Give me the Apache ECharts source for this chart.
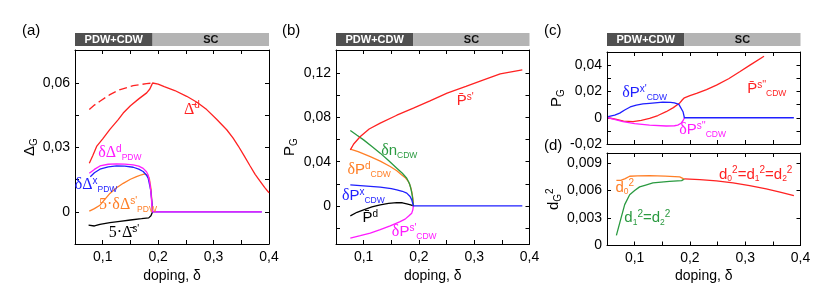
<!DOCTYPE html>
<html><head><meta charset="utf-8">
<script src="https://cdn.jsdelivr.net/npm/echarts@6/dist/echarts.min.js"></script>
<style>html,body{margin:0;padding:0;background:#fff}#c{width:831px;height:303px}</style>
</head><body><div id="c"></div>
<script>
const FONT = 'Liberation Sans, Arial, sans-serif';
const SERIF = 'Liberation Serif, Times New Roman, serif';

// ---------- axis / phase data ----------
const xMin = 0.05, xMax = 0.4;
const phaseBoundary = 0.19;
const phaseNames = ['PDW+CDW', 'SC'];
const xTickVals = [0.1, 0.15, 0.2, 0.25, 0.3, 0.35];
const xLabelVals = [0.1, 0.2, 0.3, 0.4];
const panelLetters = ['(a)', '(b)', '(c)', '(d)'];

const aYTicks = [0, 0.015, 0.03, 0.045, 0.06];
const aYLabels = [0, 0.03, 0.06];
const bYTicks = [-0.02, 0, 0.02, 0.04, 0.06, 0.08, 0.1, 0.12];
const bYLabels = [0, 0.04, 0.08, 0.12];
const cYTicks = [-0.02, -0.01, 0, 0.01, 0.02, 0.03, 0.04];
const cYLabels = [-0.02, 0, 0.02, 0.04];
const dYTicks = [0, 0.003, 0.006, 0.009];
const dYLabels = [0, 0.003, 0.006, 0.009];

// ---------- panel (a) ----------
const a_DdBar = [[0.0758,0.0227],[0.082,0.0262],[0.089,0.0305],[0.1,0.034],[0.113,0.0385],[0.128,0.043],[0.137,0.0461],[0.15,0.0495],[0.165,0.0527],[0.1793,0.0555],[0.185,0.0573],[0.188,0.059],[0.19,0.0601],
  [0.2,0.0596],[0.211,0.0584],[0.23,0.0566],[0.2515,0.0539],[0.27,0.0511],[0.2876,0.0477],[0.305,0.0433],[0.3237,0.0383],[0.335,0.0345],[0.3446,0.0307],[0.355,0.0262],[0.3657,0.0215],[0.375,0.0175],[0.3838,0.0143],[0.392,0.0114],[0.4,0.0089]];
const a_DdBarDashed = [[0.0758,0.0477],[0.085,0.0498],[0.095,0.0516],[0.113,0.0547],[0.13,0.0569],[0.155,0.0589],[0.179,0.0598],[0.19,0.0601]];
const a_dDdPDW = [[0.0758,0.018],[0.085,0.0198],[0.095,0.0214],[0.11,0.0222],[0.125,0.0224],[0.14,0.0223],[0.155,0.0219],[0.165,0.0213],[0.173,0.0203],[0.179,0.0187],[0.182,0.0172],[0.185,0.0135],[0.187,0.009],[0.188,0.0055],[0.1897,0],[0.387,0]];
const a_dDxPDW = [[0.0776,0.0164],[0.085,0.0182],[0.095,0.0199],[0.11,0.021],[0.125,0.0214],[0.14,0.0213],[0.155,0.0208],[0.165,0.0199],[0.173,0.0188],[0.179,0.0171],[0.182,0.0157],[0.1865,0.0102],[0.189,0.004],[0.19,0],[0.387,0]];
const a_dDsPDW5 = [[0.0758,0.0003],[0.085,0.0015],[0.095,0.0031],[0.105,0.0062],[0.113,0.0086],[0.125,0.0112],[0.137,0.0133],[0.15,0.0152],[0.161,0.0164],[0.17,0.0173],[0.176,0.0177],[0.18,0.0172],[0.184,0.0157],[0.187,0.011],[0.19,0]];
const a_DsBar5 = [[0.0745,-0.0062],[0.085,-0.0066],[0.095,-0.0058],[0.113,-0.005],[0.131,-0.0044],[0.15,-0.0038],[0.17,-0.0032],[0.183,-0.0028],[0.187,-0.0018],[0.19,0]];

// ---------- panel (b) ----------
const b_Ps = [[0.0759,0.0507],[0.082,0.056],[0.094,0.0627],[0.11,0.0695],[0.13,0.0748],[0.16,0.082],[0.19,0.0884],[0.22,0.095],[0.251,0.102],[0.285,0.108],[0.317,0.114],[0.347,0.1195],[0.387,0.1231]];
const b_dPd = [[0.0759,0.0513],[0.09,0.049],[0.112,0.0446],[0.13,0.0405],[0.148,0.0356],[0.16,0.0318],[0.169,0.028],[0.176,0.0252],[0.181,0.022],[0.185,0.017],[0.187,0.0129],[0.189,0.007],[0.19,0]];
const b_dn = [[0.0759,0.0681],[0.088,0.0638],[0.0999,0.0597],[0.115,0.0538],[0.13,0.0477],[0.145,0.041],[0.16,0.0341],[0.17,0.0295],[0.178,0.025],[0.183,0.02],[0.186,0.0145],[0.188,0.009],[0.19,0]];
const b_dPx = [[0.0759,0.019],[0.1,0.0181],[0.13,0.0169],[0.15,0.0155],[0.16,0.0145],[0.17,0.0132],[0.178,0.0115],[0.184,0.0085],[0.187,0.0054],[0.19,0],[0.387,0]];
const b_Pd = [[0.0759,-0.009],[0.088,-0.0058],[0.0999,-0.0036],[0.115,-0.001],[0.13,0.0009],[0.145,0.0022],[0.16,0.003],[0.17,0.0028],[0.178,0.0018],[0.185,0.0008],[0.19,0]];
const b_dPs = [[0.0759,-0.0292],[0.094,-0.027],[0.112,-0.0247],[0.13,-0.0215],[0.148,-0.0181],[0.165,-0.0145],[0.175,-0.012],[0.182,-0.009],[0.187,-0.0066],[0.189,-0.0035],[0.19,0]];

// ---------- panel (c) ----------
const c_dPx = [[0.052,0.0008],[0.064,0.002],[0.073,0.0035],[0.082,0.0059],[0.092,0.0082],[0.103,0.0097],[0.115,0.0105],[0.127,0.011],[0.151,0.0119],[0.165,0.0117],[0.172,0.0114],[0.18,0.0102],[0.183,0.0089],[0.1875,0.0046],[0.19,0],[0.388,0]];
const c_Ps2 = [[0.052,0],[0.067,-0.0012],[0.08,-0.0025],[0.097,-0.003],[0.112,-0.002],[0.127,-0.0005],[0.142,0.0017],[0.157,0.0046],[0.17,0.0077],[0.181,0.011],[0.186,0.0135],[0.19,0.0152],[0.2,0.0168],[0.212,0.0186],[0.23,0.0215],[0.248,0.0249],[0.27,0.0297],[0.29,0.035],[0.31,0.0405],[0.334,0.0469]];
const c_dPs2 = [[0.052,0],[0.065,-0.0015],[0.079,-0.003],[0.1,-0.0045],[0.127,-0.0056],[0.157,-0.0063],[0.172,-0.0061],[0.178,-0.0056],[0.184,-0.0042],[0.1875,-0.0023],[0.19,0]];

// ---------- panel (d) ----------
const d_all = [[0.19,0.00727],[0.218,0.0072],[0.248,0.00705],[0.278,0.00683],[0.308,0.00653],[0.338,0.00618],[0.363,0.00582],[0.388,0.00544]];
const d_d0 = [[0.067,0.00712],[0.075,0.0071],[0.083,0.0073],[0.091,0.00756],[0.105,0.0076],[0.127,0.00763],[0.155,0.00758],[0.1815,0.00749],[0.188,0.0073],[0.19,0.00727]];
const d_d12 = [[0.067,0.0011],[0.075,0.0029],[0.082,0.00446],[0.091,0.00555],[0.1,0.006],[0.109,0.0064],[0.12,0.0066],[0.133,0.00683],[0.148,0.00693],[0.163,0.00701],[0.185,0.00708],[0.19,0.00727]];

// ---------- curve labels: [delta, value, text] ----------
const lbl_a_Dd = [0.261, 0.0477, "{g|Δ̄}{sup|d}"];
const lbl_a_dDd = [0.131, 0.0275, "{g|δΔ}{sup|d}{sub|PDW}"];
const lbl_a_dDx = [0.088, 0.0125, "{g|δΔ}{sup|x}{sub|PDW}"];
const lbl_a_dDs = [0.1456, 0.0031, "{g|5·δΔ}{sup|s'}{sub|PDW}"];
const lbl_a_Ds = [0.1384, -0.0098, "{g|5·Δ̄}{sup|s'}"];
const lbl_b_Ps = [0.2837, 0.095, "{m|P̄}{sup|s'}"];
const lbl_b_dn = [0.1644, 0.0498, "{g|δ}{m|n}{sub|CDW}"];
const lbl_b_dPd = [0.110, 0.0326, "{g|δ}{m|P}{sup|d}{sub|CDW}"];
const lbl_b_dPx = [0.0994, 0.009, "{g|δ}{m|P}{sup|x}{sub|CDW}"];
const lbl_b_Pd = [0.112, -0.0112, "{m|P̄}{sup|d}"];
const lbl_b_dPs = [0.1915, -0.0235, "{g|δ}{m|P}{sup|s'}{sub|CDW}"];
const lbl_c_dPx = [0.118, 0.0188, "{g|δ}{m|P}{sup|x'}{sub|CDW}"];
const lbl_c_Ps2 = [0.339, 0.0218, "{m|P̄}{sup|s''}{sub|CDW}"];
const lbl_c_dPs2 = [0.223, -0.0094, "{g|δ}{m|P}{sup|s''}{sub|CDW}"];
const lbl_d_all = [0.319, 0.00774, "{m|d}{sub|0}{sup|2}{m|=d}{sub|1}{sup|2}{m|=d}{sub|2}{sup|2}"];
const lbl_d_d0 = [0.082, 0.00632, "{m|d}{sub|0}{sup|2}"];
const lbl_d_d12 = [0.123, 0.00303, "{m|d}{sub|1}{sup|2}{m|=d}{sub|2}{sup|2}"];

// ---------- styles ----------
const RED = '#ff2222', MAG = '#ff1aff', BLUE = '#1f1fff', ORANGE = '#ff7f27', GREEN = '#2a9a40', BLACK = '#000000';
const rich = {
  g: {fontFamily: SERIF, fontSize: 16, lineHeight: 18, verticalAlign: 'middle'},
  m: {fontFamily: FONT, fontSize: 15, lineHeight: 18, verticalAlign: 'middle'},
  sup: {fontFamily: FONT, fontSize: 10, lineHeight: 10, verticalAlign: 'top'},
  sub: {fontFamily: FONT, fontSize: 8.5, lineHeight: 9, verticalAlign: 'bottom'}
};
const nameRich = {
  m: {fontFamily: FONT, fontSize: 15, lineHeight: 18, verticalAlign: 'middle'},
  sub: {fontFamily: FONT, fontSize: 10, lineHeight: 9, verticalAlign: 'bottom'},
  sup: {fontFamily: FONT, fontSize: 10, lineHeight: 9, verticalAlign: 'top'}
};

function fmt(dec) { return v => Math.abs(v) < 1e-12 ? '0' : v.toFixed(dec).replace('.', ','); }

const grids = [
  {left: 75, top: 50, width: 194, height: 194},
  {left: 336, top: 50, width: 193.5, height: 194},
  {left: 607, top: 52, width: 193.5, height: 92},
  {left: 607, top: 153, width: 193.5, height: 92.5}
];

const xAxes = [], yAxes = [];
const axLine = {show: true, onZero: false, lineStyle: {color: '#000', width: 1}};
function tick(vals) { return {show: true, inside: true, length: 4, lineStyle: {color: '#000', width: 1}, customValues: vals}; }
function addAxes(g, showXLabels, yMin, yMax, yTicks, yLabels, yDec, yName, yNameGap) {
  xAxes.push({type: 'value', gridIndex: g, position: 'bottom', min: xMin, max: xMax,
    axisLine: axLine, axisTick: tick(xTickVals), splitLine: {show: false},
    axisLabel: showXLabels ? {show: true, customValues: xLabelVals, formatter: fmt(1), fontSize: 14, fontFamily: FONT, color: '#000', margin: 6} : {show: false},
    name: showXLabels ? 'doping, δ' : '', nameLocation: 'middle', nameGap: 24,
    nameTextStyle: {fontSize: 14, fontFamily: FONT, color: '#000'}});
  xAxes.push({type: 'value', gridIndex: g, position: 'top', min: xMin, max: xMax,
    axisLine: axLine, axisTick: tick(xTickVals), axisLabel: {show: false}, splitLine: {show: false}});
  yAxes.push({type: 'value', gridIndex: g, position: 'left', min: yMin, max: yMax,
    axisLine: axLine, axisTick: tick(yTicks), splitLine: {show: false},
    axisLabel: {show: true, customValues: yLabels, formatter: fmt(yDec), fontSize: 14, fontFamily: FONT, color: '#000', margin: 5},
    name: yName, nameLocation: 'middle', nameGap: yNameGap, nameRotate: 90,
    nameTextStyle: {color: '#000', rich: nameRich}});
  yAxes.push({type: 'value', gridIndex: g, position: 'right', min: yMin, max: yMax,
    axisLine: axLine, axisTick: tick(yTicks), axisLabel: {show: false}, splitLine: {show: false}});
}
addAxes(0, true, -0.015, 0.0755, aYTicks, aYLabels, 2, '{m|Δ}{sub|G}', 33);
addAxes(1, true, -0.0345, 0.141, bYTicks, bYLabels, 2, '{m|P}{sub|G}', 37);
addAxes(2, false, -0.02, 0.0501, cYTicks, cYLabels, 2, '{m|P}{sub|G}', 39);
addAxes(3, true, 0, 0.0101, dYTicks, dYLabels, 3, '{m|d}{sub|G}{sup|2}', 44);

function ln(data, color, g, lbl, extra) {
  const s = Object.assign({type: 'line', xAxisIndex: 2 * g, yAxisIndex: 2 * g, data: data,
    showSymbol: false, symbol: 'none', animation: false, silent: true,
    lineStyle: {color: color, width: 1.3}, itemStyle: {color: color}}, extra || {});
  if (lbl) {
    s.markPoint = {symbol: 'circle', symbolSize: 1, itemStyle: {color: 'rgba(0,0,0,0)'}, animation: false, silent: true,
      label: {show: true, position: 'inside', color: color, rich: rich},
      data: [{coord: [lbl[0], lbl[1]], label: {formatter: lbl[2]}}]};
  }
  return s;
}

const series = [
  ln(a_DsBar5, BLACK, 0, lbl_a_Ds),
  ln(a_dDsPDW5, ORANGE, 0, lbl_a_dDs),
  ln(a_dDxPDW, BLUE, 0, lbl_a_dDx),
  ln(a_dDdPDW, MAG, 0, lbl_a_dDd),
  ln(a_DdBar, RED, 0, lbl_a_Dd),
  ln(a_DdBarDashed, RED, 0, null, {lineStyle: {color: RED, width: 1.3, type: [8, 4]}}),
  ln(b_Pd, BLACK, 1, lbl_b_Pd),
  ln(b_dPs, MAG, 1, lbl_b_dPs),
  ln(b_dPd, ORANGE, 1, lbl_b_dPd),
  ln(b_dn, GREEN, 1, lbl_b_dn),
  ln(b_Ps, RED, 1, lbl_b_Ps),
  ln(b_dPx, BLUE, 1, lbl_b_dPx),
  ln(c_Ps2, RED, 2, lbl_c_Ps2),
  ln(c_dPs2, MAG, 2, lbl_c_dPs2),
  ln(c_dPx, BLUE, 2, lbl_c_dPx),
  ln(d_d12, GREEN, 3, lbl_d_d12),
  ln(d_d0, ORANGE, 3, lbl_d_d0),
  ln(d_all, RED, 3, lbl_d_all)
];

const chart = echarts.init(document.getElementById('c'), null, {renderer: 'canvas'});
chart.setOption({animation: false, backgroundColor: '#fff', grid: grids, xAxis: xAxes, yAxis: yAxes, series: series});

// phase bars above panels (a), (b), (c) and panel letters
const graphics = [];
[0, 2, 4].forEach(xi => {
  const x0 = chart.convertToPixel({xAxisIndex: xi}, xMin);
  const xb = chart.convertToPixel({xAxisIndex: xi}, phaseBoundary);
  const x1 = chart.convertToPixel({xAxisIndex: xi}, xMax);
  graphics.push({type: 'rect', shape: {x: x0, y: 33, width: xb - x0, height: 13}, style: {fill: '#505050'}, silent: true});
  graphics.push({type: 'rect', shape: {x: xb, y: 33, width: x1 - xb, height: 13}, style: {fill: '#b4b4b4'}, silent: true});
  graphics.push({type: 'text', x: (x0 + xb) / 2, y: 40, silent: true,
    style: {text: phaseNames[0], fill: '#fff', font: 'bold 11px ' + FONT, textAlign: 'center', textVerticalAlign: 'middle'}});
  graphics.push({type: 'text', x: (xb + x1) / 2, y: 40, silent: true,
    style: {text: phaseNames[1], fill: '#111', font: 'bold 11px ' + FONT, textAlign: 'center', textVerticalAlign: 'middle'}});
});
const letterPos = [[22, 31], [282, 31], [544, 31], [544, 146]];
panelLetters.forEach((t, i) => {
  graphics.push({type: 'text', x: letterPos[i][0], y: letterPos[i][1], silent: true,
    style: {text: t, fill: '#000', font: '15px ' + FONT, textAlign: 'left', textVerticalAlign: 'middle'}});
});
chart.setOption({graphic: graphics});
</script></body></html>
